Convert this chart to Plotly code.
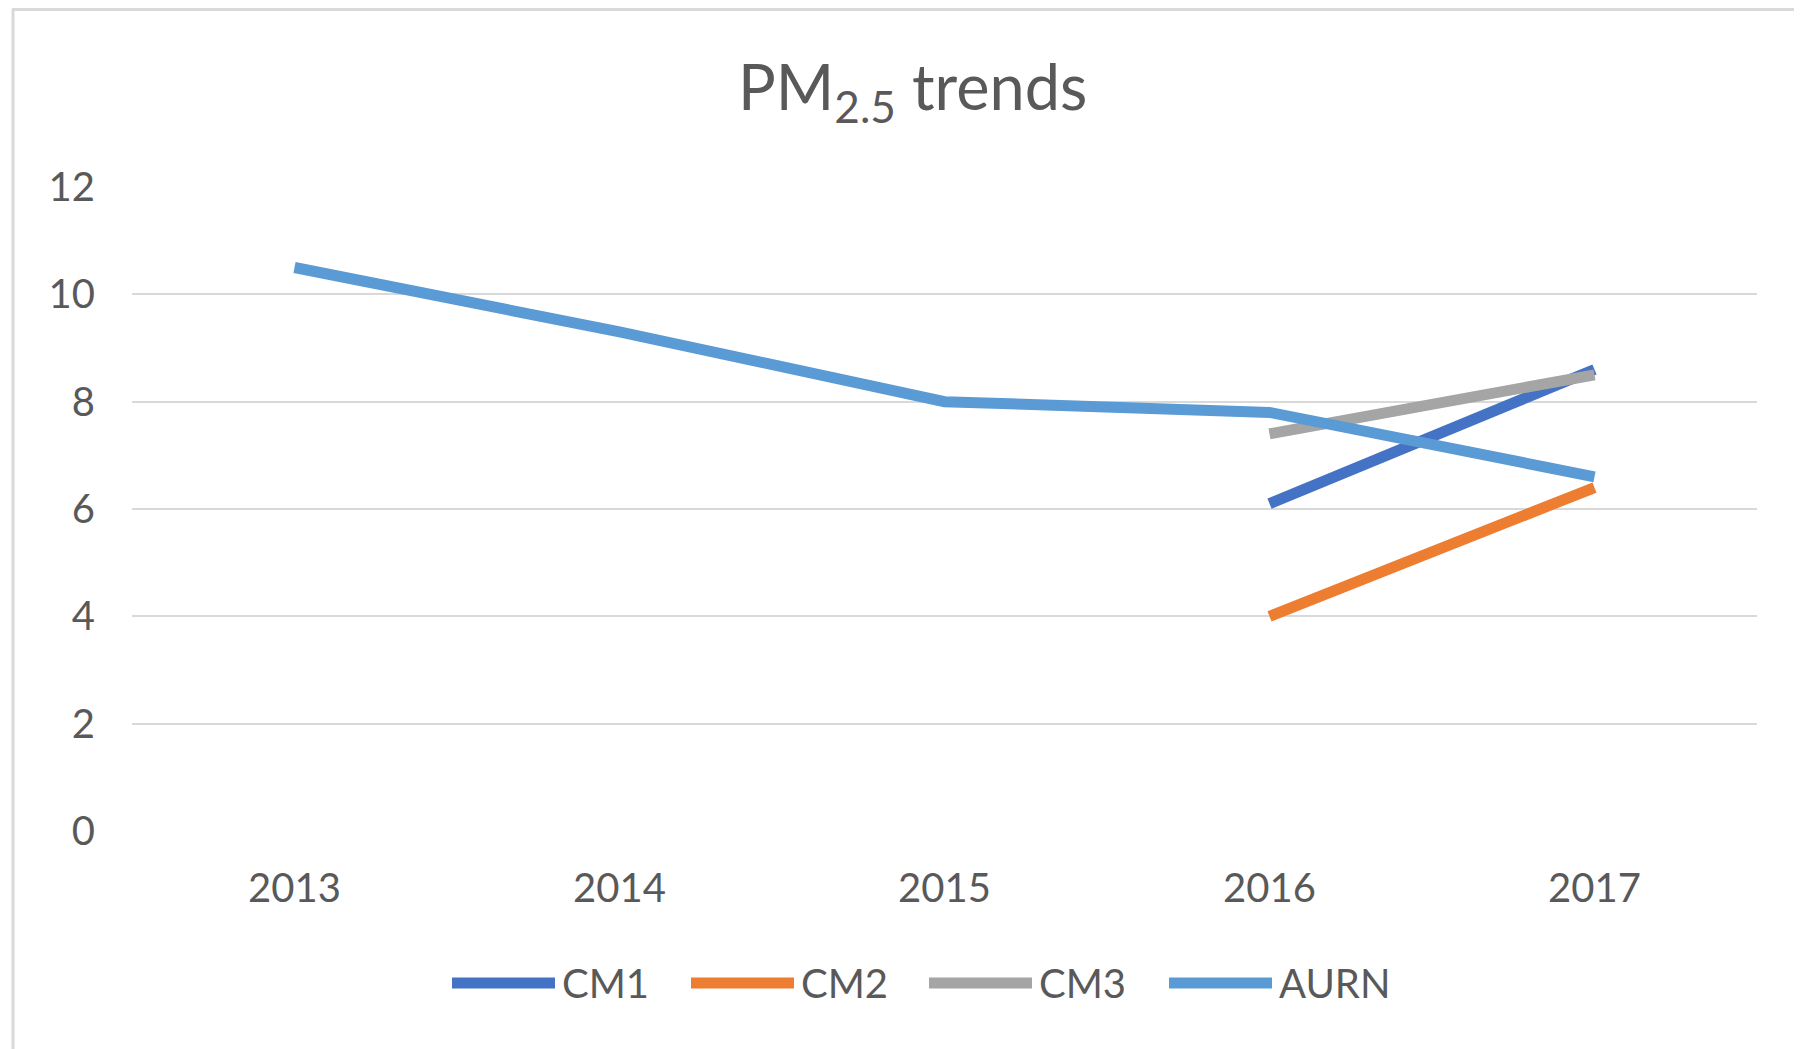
import plotly.graph_objects as go

years = ["2013", "2014", "2015", "2016", "2017"]
series_names = ["CM1", "CM2", "CM3", "AURN"]
cm1 = [None, None, None, 6.1, 8.6]
cm2 = [None, None, None, 4.0, 6.4]
cm3 = [None, None, None, 7.4, 8.5]
aurn = [10.5, 9.3, 8.0, 7.8, 6.6]
series_values = [cm1, cm2, cm3, aurn]
colors = ["#4472C4", "#ED7D31", "#A5A5A5", "#5B9BD5"]
y_ticks = [0, 2, 4, 6, 8, 10, 12]

OFF = 8  # default page body margin
W, H = 1802 - OFF, 1049 - OFF
L, T = 132 - OFF, 187 - OFF
pw, ph = 1625, 644
R, B = W - L - pw, H - T - ph

def px_x(x):
    return (x - OFF - L) / pw

def px_y(y):
    return (T + ph - (y - OFF)) / ph

FONT = "Lato"
TXT = "#595959"

fig = go.Figure()
for name, vals, c in zip(series_names, series_values, colors):
    fig.add_trace(go.Scatter(x=years, y=vals, name=name, mode="lines",
                             line=dict(color=c, width=11), showlegend=False,
                             connectgaps=False))

shapes = []
annotations = []
leg_starts = [452, 691, 929, 1169]
leg_y = 983
for i, (name, c) in enumerate(zip(series_names, colors)):
    x0 = leg_starts[i]
    shapes.append(dict(type="line", xref="paper", yref="paper",
                       x0=px_x(x0), x1=px_x(x0 + 103), y0=px_y(leg_y), y1=px_y(leg_y),
                       line=dict(color=c, width=11)))
    annotations.append(dict(text=name, xref="paper", yref="paper",
                            x=px_x(x0 + 108), y=px_y(leg_y), xanchor="left", yanchor="middle",
                            showarrow=False, font=dict(family=FONT, size=40, color=TXT)))

shapes.append(dict(type="line", xref="paper", yref="paper", x0=px_x(13), x1=px_x(13),
                   y0=px_y(9), y1=px_y(1060), line=dict(color="#D9D9D9", width=3)))
shapes.append(dict(type="line", xref="paper", yref="paper", x0=px_x(12), x1=px_x(1810),
                   y0=px_y(9.5), y1=px_y(9.5), line=dict(color="#D9D9D9", width=3)))

annotations.append(dict(text="PM<sub>2.5</sub> trends", xref="paper", yref="paper",
                        x=px_x(912), y=px_y(90), xanchor="center", yanchor="middle",
                        showarrow=False, font=dict(family=FONT, size=63, color=TXT)))

fig.update_layout(
    width=W, height=H,
    margin=dict(l=L, r=R, t=T, b=B),
    paper_bgcolor="white", plot_bgcolor="white",
    shapes=shapes, annotations=annotations,
    xaxis=dict(type="category", range=[-0.5, 4.5], showgrid=False, zeroline=False,
               showline=False, ticks="", tickfont=dict(family=FONT, size=40, color=TXT),
               ticklabelstandoff=30),
    yaxis=dict(range=[0, 12], tickvals=y_ticks, showgrid=True, gridcolor="#D9D9D9",
               gridwidth=2, zeroline=False, showline=False, ticks="",
               tickfont=dict(family=FONT, size=40, color=TXT), ticklabelstandoff=36),
)

fig.write_html("out.html")
